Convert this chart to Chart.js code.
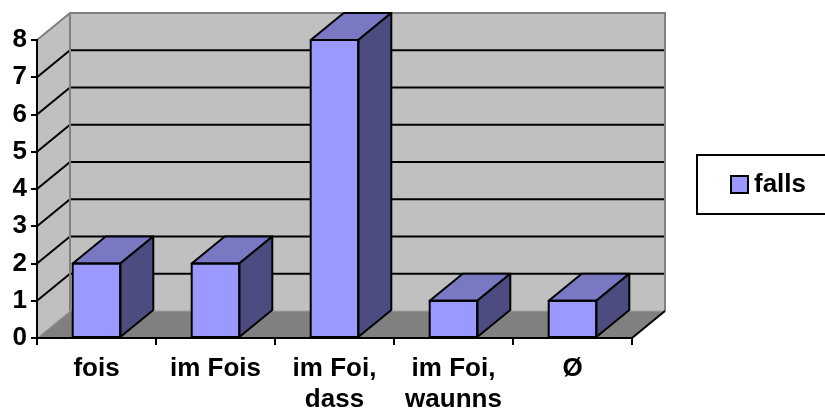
<!DOCTYPE html>
<html>
<head>
<meta charset="utf-8">
<script src="https://cdn.jsdelivr.net/npm/chart.js@4/dist/chart.umd.min.js"></script>
<style>
  html, body { margin: 0; padding: 0; background: #ffffff; }
  #wrap { width: 825px; height: 412px; }
</style>
</head>
<body>
<div id="wrap"><canvas id="c" width="825" height="412"></canvas></div>
<script>
// Categories (multi-line labels as arrays) and counts
const categories = [['fois'], ['im Fois'], ['im Foi,', 'dass'], ['im Foi,', 'waunns'], ['Ø']];
const seriesName = 'falls';
const values = [2, 2, 8, 1, 1];
const yMin = 0;
const yMax = 8;
const yStep = 1;

const FONT = '"Liberation Sans", Arial, sans-serif';
const FONT_SIZE = 26;
const FRONT = '#9999FF';
const TOP = '#7878C3';
const SIDE = '#4C4C80';
const WALL = '#C0C0C0';
const FLOOR = '#808080';
const EDGE = '#808080';
const DX = 33, DY = 27;   // depth offset of the 3D box

// Walls, floor and back-wall gridlines, drawn under the scales and bars
const walls3d = {
  id: 'walls3d',
  beforeDraw(chart) {
    const ctx = chart.ctx;
    const a = chart.chartArea;
    const ys = chart.scales.y;
    const L = a.left, R = a.right, T = a.top, B = a.bottom;
    ctx.save();
    ctx.fillStyle = '#ffffff';
    ctx.fillRect(0, 0, chart.width, chart.height);

    // back wall
    ctx.fillStyle = WALL;
    ctx.fillRect(L + DX, T - DY, R - L, B - T);
    // left side wall
    ctx.beginPath();
    ctx.moveTo(L, B); ctx.lineTo(L, T); ctx.lineTo(L + DX, T - DY); ctx.lineTo(L + DX, B - DY);
    ctx.closePath(); ctx.fill();
    // floor
    ctx.fillStyle = FLOOR;
    ctx.beginPath();
    ctx.moveTo(L, B); ctx.lineTo(L + DX, B - DY); ctx.lineTo(R + DX, B - DY); ctx.lineTo(R, B);
    ctx.closePath(); ctx.fill();

    // gridlines on the back wall and the side wall
    ctx.strokeStyle = '#000000';
    ctx.lineWidth = 2;
    for (let v = yMin + yStep; v < yMax; v += yStep) {
      const y = ys.getPixelForValue(v);
      ctx.beginPath();
      ctx.moveTo(L, y); ctx.lineTo(L + DX, y - DY); ctx.lineTo(R + DX, y - DY);
      ctx.stroke();
    }

    // wall edges
    ctx.strokeStyle = EDGE;
    ctx.beginPath();
    ctx.moveTo(L, T); ctx.lineTo(L + DX, T - DY); ctx.lineTo(R + DX, T - DY); ctx.lineTo(R + DX, B - DY);
    ctx.moveTo(L + DX, T - DY); ctx.lineTo(L + DX, B - DY);
    ctx.stroke();
    ctx.strokeStyle = '#A0A0A0';
    ctx.lineWidth = 1;
    ctx.beginPath();
    ctx.moveTo(L, B); ctx.lineTo(L + DX, B - DY); ctx.lineTo(R + DX, B - DY);
    ctx.stroke();
    // floor right edge
    ctx.strokeStyle = '#000000';
    ctx.lineWidth = 2;
    ctx.beginPath();
    ctx.moveTo(R, B); ctx.lineTo(R + DX, B - DY);
    ctx.stroke();
    ctx.restore();
  }
};

// Top and side faces of each bar, built from the bar elements
const bars3d = {
  id: 'bars3d',
  afterDatasetsDraw(chart) {
    const ctx = chart.ctx;
    const meta = chart.getDatasetMeta(0);
    ctx.save();
    ctx.strokeStyle = '#000000';
    ctx.lineWidth = 2;
    ctx.lineJoin = 'round';
    meta.data.forEach(bar => {
      const p = bar.getProps(['x', 'y', 'base', 'width'], true);
      const l = p.x - p.width / 2, r = p.x + p.width / 2, t = p.y, b = p.base;
      // top face
      ctx.fillStyle = TOP;
      ctx.beginPath();
      ctx.moveTo(l, t); ctx.lineTo(l + DX, t - DY); ctx.lineTo(r + DX, t - DY); ctx.lineTo(r, t);
      ctx.closePath(); ctx.fill(); ctx.stroke();
      // side face
      ctx.fillStyle = SIDE;
      ctx.beginPath();
      ctx.moveTo(r, t); ctx.lineTo(r + DX, t - DY); ctx.lineTo(r + DX, b - DY); ctx.lineTo(r, b);
      ctx.closePath(); ctx.fill(); ctx.stroke();
      // front outline
      ctx.strokeRect(l, t, r - l, b - t);
    });
    ctx.restore();
  }
};

// Boxed legend on the right
const boxLegend = {
  id: 'boxLegend',
  afterDraw(chart) {
    const ctx = chart.ctx;
    const ds = chart.data.datasets[0];
    ctx.save();
    ctx.fillStyle = '#ffffff';
    ctx.fillRect(697, 155, 130, 59);
    ctx.strokeStyle = '#000000';
    ctx.lineWidth = 2;
    ctx.strokeRect(697, 155, 130, 59);
    ctx.fillStyle = ds.backgroundColor;
    ctx.fillRect(731, 176, 17, 17);
    ctx.strokeRect(731, 176, 17, 17);
    ctx.fillStyle = '#000000';
    ctx.font = 'bold ' + FONT_SIZE + 'px ' + FONT;
    ctx.textBaseline = 'middle';
    ctx.textAlign = 'left';
    ctx.fillText(ds.label, 754, 185);
    ctx.restore();
  }
};

new Chart(document.getElementById('c'), {
  type: 'bar',
  data: {
    labels: categories,
    datasets: [{
      label: seriesName,
      data: values,
      backgroundColor: FRONT,
      borderColor: '#000000',
      borderWidth: 0,
      categoryPercentage: 1,
      barPercentage: 0.4
    }]
  },
  options: {
    responsive: false,
    devicePixelRatio: 1,
    animation: false,
    layout: { padding: { top: 40, right: 193, left: 0, bottom: 0 } },
    plugins: { legend: { display: false }, tooltip: { enabled: false } },
    scales: {
      y: {
        min: yMin, max: yMax,
        ticks: { stepSize: yStep, color: '#000000', padding: 4, font: { family: FONT, size: FONT_SIZE, weight: 'bold' } },
        grid: { drawOnChartArea: false, tickLength: 6, color: '#000000', lineWidth: 2 },
        border: { display: true, color: '#000000', width: 2 },
        afterFit(scale) { scale.width = 37; }
      },
      x: {
        ticks: { color: '#000000', padding: 8, maxRotation: 0, autoSkip: false, font: { family: FONT, size: FONT_SIZE, weight: 'bold', lineHeight: 1.2 } },
        grid: { offset: true, drawOnChartArea: false, tickLength: 7, color: '#000000', lineWidth: 2 },
        border: { display: true, color: '#000000', width: 2 },
        afterFit(scale) { scale.height = 74; }
      }
    }
  },
  plugins: [walls3d, bars3d, boxLegend]
});
</script>
</body>
</html>
